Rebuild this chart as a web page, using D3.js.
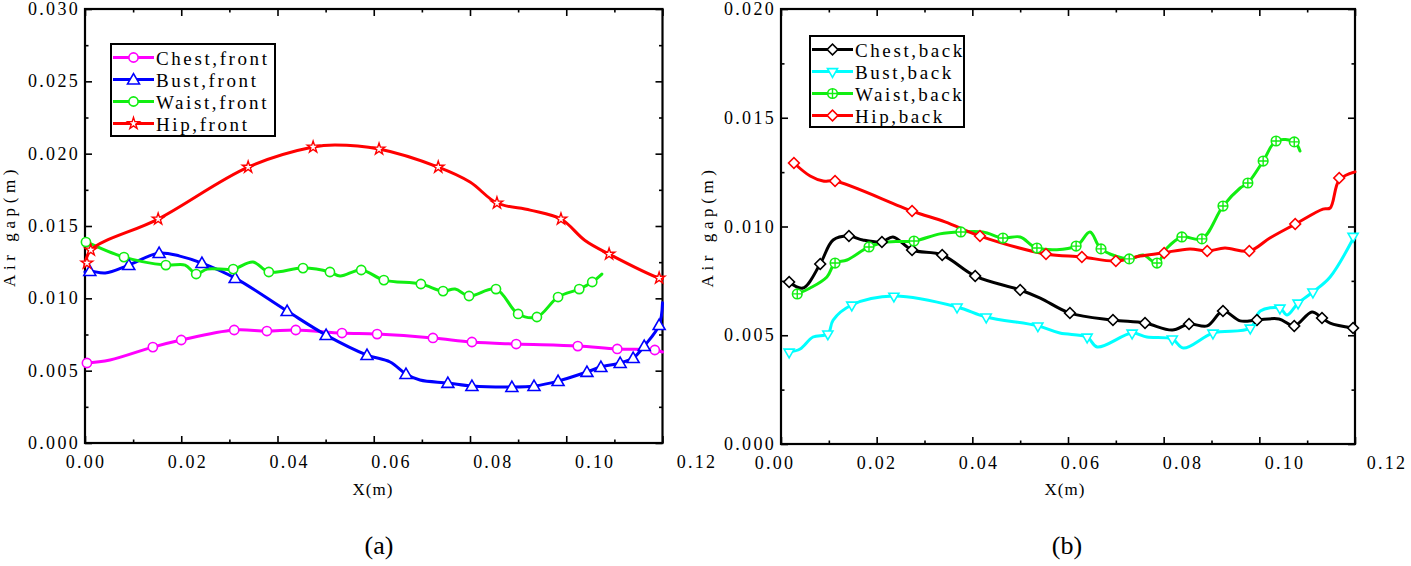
<!DOCTYPE html>
<html><head><meta charset="utf-8">
<script src="https://cdn.jsdelivr.net/npm/d3@7"></script>
<style>body{margin:0;background:#fff}svg{display:block}</style>
</head><body><svg id="c" width="1411" height="566"></svg>
<script>
// ---------- tick data ----------
const xTickValues = [0, 0.02, 0.04, 0.06, 0.08, 0.10, 0.12];
const xTickLabels = ["0.00", "0.02", "0.04", "0.06", "0.08", "0.10", "0.12"];
const xMinorValues = [0.01, 0.03, 0.05, 0.07, 0.09, 0.11];
const yTickValuesA = [0, 0.005, 0.010, 0.015, 0.020, 0.025, 0.030];
const yTickLabelsA = ["0.000", "0.005", "0.010", "0.015", "0.020", "0.025", "0.030"];
const yMinorValuesA = [0.0025, 0.0075, 0.0125, 0.0175, 0.0225, 0.0275];
const yTickValuesB = [0, 0.005, 0.010, 0.015, 0.020];
const yTickLabelsB = ["0.000", "0.005", "0.010", "0.015", "0.020"];
const yMinorValuesB = [0.0025, 0.0075, 0.0125, 0.0175];

const namesA = ["Chest,front", "Bust,front", "Waist,front", "Hip,front"];
const namesB = ["Chest,back", "Bust,back", "Waist,back", "Hip,back"];

// ---------- panel (a) : front ----------
const chestFrontLine = [[0,0.00553],[0.0052,0.00574],[0.0141,0.00663],[0.0200,0.00712],[0.0310,0.00781],[0.0378,0.00774],[0.0438,0.00781],[0.0534,0.0076],[0.0607,0.00753],[0.0723,0.00726],[0.0804,0.00698],[0.0896,0.00684],[0.1024,0.0067],[0.1106,0.0065],[0.1184,0.00643],[0.12,0.00629]];
const chestFrontMarks = [[0.0004,0.00553],[0.0141,0.00663],[0.0200,0.00712],[0.0310,0.00781],[0.0378,0.00774],[0.0438,0.00781],[0.0534,0.0076],[0.0607,0.00753],[0.0723,0.00726],[0.0804,0.00698],[0.0896,0.00684],[0.1024,0.0067],[0.1106,0.0065],[0.1184,0.00643]];

const bustFrontLine = [[0,0.01182],[0.0010,0.01189],[0.0042,0.01175],[0.0091,0.0123],[0.0154,0.01313],[0.0197,0.01292],[0.0243,0.01244],[0.0312,0.0114],[0.0420,0.00912],[0.0501,0.00746],[0.0586,0.00608],[0.0634,0.0056],[0.0667,0.00477],[0.0696,0.00435],[0.0754,0.00415],[0.0804,0.00394],[0.0887,0.00387],[0.0933,0.00394],[0.0983,0.00428],[0.1043,0.00491],[0.1072,0.00525],[0.1112,0.00553],[0.1139,0.00587],[0.1162,0.0067],[0.1193,0.00815],[0.12,0.0097]];
const bustFrontMarks = [[0.0010,0.01189],[0.0091,0.0123],[0.0154,0.01313],[0.0243,0.01244],[0.0312,0.0114],[0.0420,0.00912],[0.0501,0.00746],[0.0586,0.00608],[0.0667,0.00477],[0.0754,0.00415],[0.0804,0.00394],[0.0887,0.00387],[0.0933,0.00394],[0.0983,0.00428],[0.1043,0.00491],[0.1072,0.00525],[0.1112,0.00553],[0.1139,0.00587],[0.1162,0.0067],[0.1193,0.00815]];

const waistFrontLine = [[0,0.01396],[0.0081,0.01285],[0.0168,0.0123],[0.0208,0.0123],[0.0231,0.01168],[0.0254,0.01202],[0.0308,0.01202],[0.0349,0.01251],[0.0382,0.01182],[0.0453,0.01209],[0.0509,0.01182],[0.0530,0.01154],[0.0574,0.01196],[0.0621,0.01126],[0.0698,0.01099],[0.0744,0.0105],[0.0769,0.01064],[0.0798,0.01016],[0.0854,0.01064],[0.0900,0.00892],[0.0939,0.00871],[0.0983,0.01009],[0.1027,0.01064],[0.1054,0.01113],[0.1074,0.01168]];
const waistFrontMarks = [[0.0002,0.01389],[0.0081,0.01285],[0.0168,0.0123],[0.0231,0.01168],[0.0308,0.01202],[0.0382,0.01182],[0.0453,0.01209],[0.0509,0.01182],[0.0574,0.01196],[0.0621,0.01126],[0.0698,0.01099],[0.0744,0.0105],[0.0798,0.01016],[0.0854,0.01064],[0.0900,0.00892],[0.0939,0.00871],[0.0983,0.01009],[0.1027,0.01064],[0.1054,0.01113]];

const hipFrontLine = [[0,0.0123],[0.0012,0.01334],[0.0152,0.01548],[0.0339,0.01907],[0.0474,0.02046],[0.0519,0.0206],[0.0611,0.02032],[0.0734,0.01907],[0.0800,0.01804],[0.0856,0.01659],[0.0925,0.0161],[0.0989,0.01548],[0.1039,0.0140],[0.1089,0.01306],[0.1193,0.0114],[0.12,0.01135]];
const hipFrontMarks = [[0.0004,0.01244],[0.0012,0.01334],[0.0152,0.01548],[0.0339,0.01907],[0.0474,0.02046],[0.0611,0.02032],[0.0734,0.01907],[0.0856,0.01659],[0.0989,0.01548],[0.1089,0.01306],[0.1193,0.0114]];

// ---------- panel (b) : back ----------
const chestBackLine = [[0.0017,0.00745],[0.0046,0.00717],[0.0082,0.00828],[0.0109,0.00938],[0.0142,0.00956],[0.0171,0.00938],[0.0211,0.00929],[0.0234,0.00952],[0.0274,0.00892],[0.0337,0.00869],[0.0406,0.00772],[0.0500,0.00708],[0.0542,0.00671],[0.0604,0.00602],[0.0694,0.0057],[0.0761,0.00556],[0.0818,0.00524],[0.0853,0.00552],[0.0891,0.00543],[0.0924,0.00611],[0.0960,0.00566],[0.0995,0.0057],[0.1041,0.00575],[0.1073,0.00543],[0.1110,0.00607],[0.1131,0.00579],[0.1148,0.00556],[0.1196,0.00533]];
const chestBackMarks = [[0.0017,0.00745],[0.0082,0.00828],[0.0142,0.00956],[0.0211,0.00929],[0.0274,0.00892],[0.0337,0.00869],[0.0406,0.00772],[0.0500,0.00708],[0.0604,0.00602],[0.0694,0.0057],[0.0761,0.00556],[0.0853,0.00552],[0.0924,0.00611],[0.0995,0.0057],[0.1073,0.00543],[0.1131,0.00579],[0.1196,0.00533]];

const bustBackLine = [[0.0017,0.00423],[0.0040,0.00437],[0.0067,0.00492],[0.0098,0.00506],[0.0109,0.0057],[0.0148,0.00639],[0.0236,0.0068],[0.0368,0.0063],[0.0429,0.00584],[0.0537,0.00543],[0.0583,0.0051],[0.0640,0.00492],[0.0661,0.00446],[0.0734,0.0051],[0.0765,0.00492],[0.0818,0.00483],[0.0841,0.00441],[0.0903,0.0051],[0.0981,0.00533],[0.1002,0.00611],[0.1043,0.00625],[0.1058,0.00593],[0.1081,0.00648],[0.1112,0.00699],[0.1148,0.00768],[0.12,0.00961]];
const bustBackMarks = [[0.0017,0.00423],[0.0098,0.00506],[0.0148,0.00639],[0.0236,0.0068],[0.0368,0.0063],[0.0429,0.00584],[0.0537,0.00543],[0.0640,0.00492],[0.0734,0.0051],[0.0818,0.00483],[0.0903,0.0051],[0.0981,0.00533],[0.1043,0.00625],[0.1081,0.00648],[0.1112,0.00699],[0.1196,0.00955]];

const waistBackLine = [[0.0034,0.0069],[0.0061,0.00717],[0.0096,0.00768],[0.0113,0.00832],[0.0138,0.00846],[0.0184,0.00906],[0.0222,0.00929],[0.0278,0.00933],[0.0332,0.00966],[0.0376,0.00975],[0.0422,0.00975],[0.0464,0.00947],[0.0500,0.00952],[0.0535,0.00901],[0.0617,0.0091],[0.0646,0.00975],[0.0669,0.00897],[0.0728,0.00851],[0.0757,0.00869],[0.0786,0.00832],[0.0807,0.00901],[0.0838,0.00952],[0.0880,0.00943],[0.0924,0.01094],[0.0960,0.01177],[0.0976,0.012],[0.1008,0.01301],[0.1035,0.01393],[0.1073,0.01389],[0.1085,0.01347]];
const waistBackMarks = [[0.0034,0.0069],[0.0113,0.00832],[0.0184,0.00906],[0.0278,0.00933],[0.0376,0.00975],[0.0464,0.00947],[0.0535,0.00901],[0.0617,0.0091],[0.0669,0.00897],[0.0728,0.00851],[0.0786,0.00832],[0.0838,0.00952],[0.0880,0.00943],[0.0924,0.01094],[0.0976,0.012],[0.1008,0.01301],[0.1035,0.01393],[0.1073,0.01389]];

const hipBackLine = [[0.0027,0.01292],[0.0061,0.01232],[0.0088,0.01209],[0.0113,0.01209],[0.0274,0.01071],[0.0343,0.01021],[0.0416,0.00956],[0.0554,0.00874],[0.0629,0.0086],[0.0700,0.00841],[0.0751,0.00864],[0.0797,0.00878],[0.0855,0.00897],[0.0891,0.00887],[0.0928,0.00901],[0.0979,0.00887],[0.1022,0.00947],[0.1075,0.01011],[0.1133,0.0108],[0.1148,0.01085],[0.1167,0.01214],[0.12,0.01251]];
const hipBackMarks = [[0.0027,0.01292],[0.0113,0.01209],[0.0274,0.01071],[0.0416,0.00956],[0.0554,0.00874],[0.0629,0.0086],[0.0700,0.00841],[0.0801,0.00878],[0.0891,0.00887],[0.0979,0.00887],[0.1075,0.01011],[0.1167,0.01223]];

// ---------- drawing ----------
const FONT = "'Liberation Serif','Times New Roman',serif";
const svg = d3.select("#c");
svg.append("rect").attr("width", 1411).attr("height", 566).attr("fill", "#fff");

function drawMarker(g, type, color) {
  const common = s => s.attr("fill", "#fff").attr("stroke", color).attr("stroke-width", 1.6);
  if (type === "circle") {
    g.append("circle").attr("r", 4.6).call(common);
  } else if (type === "triUp") {
    g.append("path").attr("d", d3.symbol(d3.symbolTriangle, 62)()).attr("transform", "translate(0,1)").call(common);
  } else if (type === "triDown") {
    g.append("path").attr("d", d3.symbol(d3.symbolTriangle, 44)()).attr("transform", "rotate(180)").call(common);
  } else if (type === "star") {
    g.append("path").attr("d", d3.symbol(d3.symbolStar, 42)()).call(common).attr("stroke-width", 1.4);
  } else if (type === "diamond") {
    g.append("path").attr("d", d3.symbol(d3.symbolSquare, 58)()).attr("transform", "rotate(45)").call(common);
  } else if (type === "circlePlus") {
    g.append("circle").attr("r", 4.8).call(common);
    g.append("path").attr("d", "M-4.8,0H4.8M0,-4.8V4.8").attr("stroke", color).attr("stroke-width", 1.4);
  }
}

function drawPanel(o) {
  const g = svg.append("g");
  const [x0, x1] = o.x.range();
  const [y0, y1] = o.y.range();
  const tickStyle = s => { s.select(".domain").remove(); s.selectAll("line").attr("stroke", "#000").attr("stroke-width", 1.6); };
  // major (7px) and minor (3.5px) ticks on all four sides, pointing inward
  const sides = [
    [d3.axisBottom, `translate(0,${y0})`, o.x, xTickValues, xMinorValues],
    [d3.axisTop, `translate(0,${y1})`, o.x, xTickValues, xMinorValues],
    [d3.axisLeft, `translate(${x0},0)`, o.y, o.yTicks, o.yMinor],
    [d3.axisRight, `translate(${x1},0)`, o.y, o.yTicks, o.yMinor]
  ];
  sides.forEach(([f, tr, sc, maj, min]) => {
    g.append("g").attr("transform", tr).call(f(sc).tickValues(maj).tickSize(-7).tickSizeOuter(0).tickFormat("")).call(tickStyle);
    g.append("g").attr("transform", tr).call(f(sc).tickValues(min).tickSize(-3.5).tickSizeOuter(0).tickFormat("")).call(tickStyle);
  });
  // frame
  g.append("rect").attr("x", x0).attr("y", y1).attr("width", x1 - x0).attr("height", y0 - y1)
    .attr("fill", "none").attr("stroke", "#000").attr("stroke-width", 2.2);

  // tick labels
  g.selectAll(".xl").data(xTickValues).join("text")
    .attr("x", d => o.xLab(d)).attr("y", y0 + 25).attr("text-anchor", "middle")
    .style("font-family", FONT).style("font-size", "18px").style("letter-spacing", "2.2px")
    .text((d, i) => xTickLabels[i]);
  g.selectAll(".yl").data(o.yTicks).join("text")
    .attr("x", x0 - 5).attr("y", d => o.y(d) + 6).attr("text-anchor", "end")
    .style("font-family", FONT).style("font-size", "18px").style("letter-spacing", "2.3px")
    .text((d, i) => o.yLabels[i]);

  // axis titles
  g.append("text").attr("transform", `translate(${o.yTitleX},${(y0 + y1) / 2}) rotate(-90)`)
    .attr("text-anchor", "middle").style("font-family", FONT).style("font-size", "17px").style("letter-spacing", "4.6px")
    .text("Air gap(m)");
  g.append("text").attr("x", o.xTitleX).attr("y", 495).attr("text-anchor", "middle")
    .style("font-family", FONT).style("font-size", "17px").style("letter-spacing", "1px").text("X(m)");
  g.append("text").attr("x", o.panelX).attr("y", 554).attr("text-anchor", "middle")
    .style("font-family", FONT).style("font-size", "26px").text(o.panel);

  // series
  const line = d3.line().x(d => o.x(d[0])).y(d => o.y(d[1])).curve(d3.curveCatmullRom.alpha(0.5));
  o.series.forEach(s => {
    g.append("path").attr("d", line(s.line)).attr("fill", "none").attr("stroke", s.color)
      .attr("stroke-width", 3).attr("stroke-linejoin", "round").attr("stroke-linecap", "round");
  });
  o.series.forEach(s => {
    s.marks.forEach(p => {
      const m = g.append("g").attr("transform", `translate(${o.x(p[0])},${o.y(p[1])})`);
      drawMarker(m, s.symbol, s.color);
    });
  });

  // legend
  const L = o.legend;
  g.append("rect").attr("x", L.x0).attr("y", L.y0).attr("width", L.x1 - L.x0).attr("height", L.y1 - L.y0)
    .attr("fill", "#fff").attr("stroke", "#000").attr("stroke-width", 2);
  o.series.forEach((s, i) => {
    const cy = L.rowY + i * 22;
    g.append("line").attr("x1", L.lx0).attr("x2", L.lx1).attr("y1", cy).attr("y2", cy)
      .attr("stroke", s.color).attr("stroke-width", 3);
    const m = g.append("g").attr("transform", `translate(${(L.lx0 + L.lx1) / 2},${cy})`);
    drawMarker(m, s.symbol, s.color);
    g.append("text").attr("x", L.lx1 + 2).attr("y", cy + 7)
      .style("font-family", FONT).style("font-size", "19px").style("letter-spacing", "2.6px")
      .text(s.name);
  });
}

drawPanel({
  x: d3.scaleLinear([0, 0.12], [85, 662.5]),
  xLab: d3.scaleLinear([0, 0.12], [86, 697]),
  y: d3.scaleLinear([0, 0.030], [443, 9]),
  yTicks: yTickValuesA, yLabels: yTickLabelsA, yMinor: yMinorValuesA,
  yTitleX: 15, xTitleX: 373, panelX: 379, panel: "(a)",
  legend: { x0: 111, x1: 275, y0: 44, y1: 136, rowY: 57.5, lx0: 113, lx1: 154 },
  series: [
    { name: namesA[0], line: chestFrontLine, marks: chestFrontMarks, color: "#ff00ff", symbol: "circle" },
    { name: namesA[1], line: bustFrontLine, marks: bustFrontMarks, color: "#0000ff", symbol: "triUp" },
    { name: namesA[2], line: waistFrontLine, marks: waistFrontMarks, color: "#11ee11", symbol: "circle" },
    { name: namesA[3], line: hipFrontLine, marks: hipFrontMarks, color: "#ff0000", symbol: "star" }
  ]
});

drawPanel({
  x: d3.scaleLinear([0, 0.12], [781, 1355]),
  xLab: d3.scaleLinear([0, 0.12], [775, 1387]),
  y: d3.scaleLinear([0, 0.020], [444, 9]),
  yTicks: yTickValuesB, yLabels: yTickLabelsB, yMinor: yMinorValuesB,
  yTitleX: 713, xTitleX: 1065, panelX: 1067, panel: "(b)",
  legend: { x0: 810, x1: 964, y0: 36, y1: 127, rowY: 49.5, lx0: 812, lx1: 853 },
  series: [
    { name: namesB[0], line: chestBackLine, marks: chestBackMarks, color: "#000000", symbol: "diamond" },
    { name: namesB[1], line: bustBackLine, marks: bustBackMarks, color: "#00ffff", symbol: "triDown" },
    { name: namesB[2], line: waistBackLine, marks: waistBackMarks, color: "#11ee11", symbol: "circlePlus" },
    { name: namesB[3], line: hipBackLine, marks: hipBackMarks, color: "#ff0000", symbol: "diamond" }
  ]
});
</script></body></html>
